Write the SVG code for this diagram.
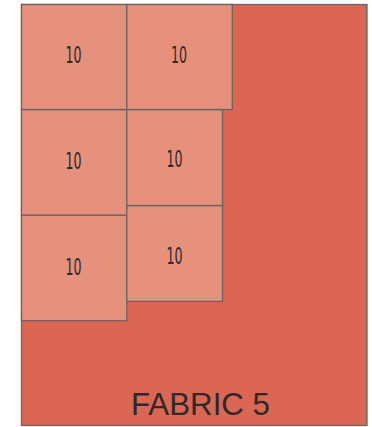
<svg xmlns="http://www.w3.org/2000/svg" width="372" height="427" viewBox="0 0 372 427">
<style>
.fabric{fill:#db6652;stroke:#666;stroke-width:1.3}
.sq{fill:#e5917b;stroke:#666;stroke-width:1.3}
.lbl{font-family:"DejaVu Sans Condensed","DejaVu Sans",sans-serif;font-size:23px;fill:#2a2a2a;text-anchor:middle}
.title{font-family:"Liberation Sans",Arial,sans-serif;font-size:31px;fill:#2a2a2a;text-anchor:middle}
</style>
<rect width="372" height="427" fill="#fff"/>
<g id="fabric5">
<rect class="fabric" x="21.5" y="4.5" width="345.5" height="421"/>
<text class="title" x="200.5" y="415" textLength="139" lengthAdjust="spacingAndGlyphs">FABRIC 5</text>
</g>
<g id="sq1"><rect class="sq" x="21.5" y="4.5" width="105.3" height="105"/><text class="lbl" x="73.5" y="63.3" textLength="16" lengthAdjust="spacingAndGlyphs">10</text></g>
<g id="sq2"><rect class="sq" x="126.8" y="4.5" width="105.5" height="105"/><text class="lbl" x="179" y="63.3" textLength="16" lengthAdjust="spacingAndGlyphs">10</text></g>
<g id="sq3"><rect class="sq" x="21.5" y="109.8" width="105.3" height="105.5"/><text class="lbl" x="73.5" y="169.3" textLength="16" lengthAdjust="spacingAndGlyphs">10</text></g>
<g id="sq4"><rect class="sq" x="126.8" y="109.8" width="95.7" height="95.7"/><text class="lbl" x="174.5" y="167.3" textLength="16" lengthAdjust="spacingAndGlyphs">10</text></g>
<g id="sq5"><rect class="sq" x="21.5" y="215.3" width="105.3" height="105.3"/><text class="lbl" x="73.5" y="275.3" textLength="16" lengthAdjust="spacingAndGlyphs">10</text></g>
<g id="sq6"><rect class="sq" x="126.8" y="205.8" width="95.7" height="95.6"/><text class="lbl" x="174.5" y="264.3" textLength="16" lengthAdjust="spacingAndGlyphs">10</text></g>
<g id="connectors"/>
</svg>
